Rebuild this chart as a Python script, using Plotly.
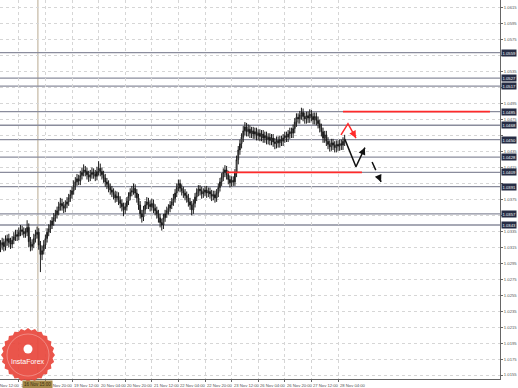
import math
import plotly.graph_objects as go

# ---------------- data (H1 bars) ----------------
bar_start = 5
closes = [
    1.0318, 1.0321, 1.0316, 1.0323, 1.0326, 1.0321, 1.0319, 1.0324, 1.0328, 1.0331,
    1.0329, 1.0334, 1.0337, 1.0335, 1.0332, 1.0334, 1.0340, 1.0322, 1.0316, 1.0319,
    1.0326, 1.0331, 1.0334, 1.0318, 1.0306, 1.0311, 1.0318, 1.0326, 1.0334, 1.0338,
    1.0343, 1.0348, 1.0352, 1.0356, 1.0361, 1.0366, 1.0370, 1.0367, 1.0364, 1.0369,
    1.0372, 1.0377, 1.0381, 1.0386, 1.0393, 1.0397, 1.0401, 1.0398, 1.0405, 1.0409,
    1.0412, 1.0410, 1.0406, 1.0403, 1.0406, 1.0409, 1.0407, 1.0404, 1.0410, 1.0414,
    1.0410, 1.0406, 1.0402, 1.0397, 1.0394, 1.0390, 1.0387, 1.0384, 1.0381, 1.0377,
    1.0379, 1.0374, 1.0370, 1.0366, 1.0362, 1.0366, 1.0373, 1.0379, 1.0384, 1.0386,
    1.0389, 1.0383, 1.0377, 1.0368, 1.0357, 1.0353, 1.0362, 1.0368, 1.0372, 1.0369,
    1.0366, 1.0370, 1.0364, 1.0361, 1.0357, 1.0352, 1.0346, 1.0343, 1.0352, 1.0357,
    1.0361, 1.0364, 1.0368, 1.0372, 1.0376, 1.0383, 1.0390, 1.0395, 1.0389, 1.0386,
    1.0383, 1.0380, 1.0377, 1.0372, 1.0368, 1.0362, 1.0370, 1.0378, 1.0384, 1.0388,
    1.0386, 1.0382, 1.0384, 1.0387, 1.0383, 1.0385, 1.0382, 1.0379, 1.0381, 1.0377,
    1.0383, 1.0390, 1.0397, 1.0403, 1.0409, 1.0412, 1.0406, 1.0400, 1.0396, 1.0399,
    1.0397, 1.0408, 1.0425, 1.0437, 1.0445, 1.0453, 1.0461, 1.0466, 1.0460, 1.0463,
    1.0458, 1.0461, 1.0457, 1.0460, 1.0455, 1.0458, 1.0454, 1.0457, 1.0452, 1.0455,
    1.0450, 1.0453, 1.0449, 1.0452, 1.0447, 1.0445, 1.0449, 1.0446, 1.0450, 1.0448,
    1.0452, 1.0455, 1.0453, 1.0457, 1.0460, 1.0458, 1.0464, 1.0472, 1.0478, 1.0476,
    1.0481, 1.0484, 1.0479, 1.0476, 1.0480, 1.0477, 1.0482, 1.0479, 1.0475, 1.0479,
    1.0474, 1.0470, 1.0465, 1.0460, 1.0452, 1.0456, 1.0448, 1.0444, 1.0441, 1.0446,
    1.0443, 1.0440, 1.0444, 1.0442, 1.0445, 1.0443, 1.0448, 1.0451,
]
opens = [
    1.0315, 1.0318, 1.0321, 1.0316, 1.0323, 1.0326, 1.0321, 1.0319, 1.0324, 1.0328,
    1.0331, 1.0329, 1.0334, 1.0337, 1.0335, 1.0332, 1.0334, 1.0340, 1.0322, 1.0316,
    1.0319, 1.0326, 1.0331, 1.0334, 1.0318, 1.0306, 1.0311, 1.0318, 1.0326, 1.0334,
    1.0338, 1.0343, 1.0348, 1.0352, 1.0356, 1.0361, 1.0366, 1.0370, 1.0367, 1.0364,
    1.0369, 1.0372, 1.0377, 1.0381, 1.0386, 1.0393, 1.0397, 1.0401, 1.0398, 1.0405,
    1.0409, 1.0412, 1.0410, 1.0406, 1.0403, 1.0406, 1.0409, 1.0407, 1.0404, 1.0410,
    1.0414, 1.0410, 1.0406, 1.0402, 1.0397, 1.0394, 1.0390, 1.0387, 1.0384, 1.0381,
    1.0377, 1.0379, 1.0374, 1.0370, 1.0366, 1.0362, 1.0366, 1.0373, 1.0379, 1.0384,
    1.0386, 1.0389, 1.0383, 1.0377, 1.0368, 1.0357, 1.0353, 1.0362, 1.0368, 1.0372,
    1.0369, 1.0366, 1.0370, 1.0364, 1.0361, 1.0357, 1.0352, 1.0346, 1.0343, 1.0352,
    1.0357, 1.0361, 1.0364, 1.0368, 1.0372, 1.0376, 1.0383, 1.0390, 1.0395, 1.0389,
    1.0386, 1.0383, 1.0380, 1.0377, 1.0372, 1.0368, 1.0362, 1.0370, 1.0378, 1.0384,
    1.0388, 1.0386, 1.0382, 1.0384, 1.0387, 1.0383, 1.0385, 1.0382, 1.0379, 1.0381,
    1.0377, 1.0383, 1.0390, 1.0397, 1.0403, 1.0409, 1.0412, 1.0406, 1.0400, 1.0396,
    1.0399, 1.0397, 1.0408, 1.0425, 1.0437, 1.0445, 1.0453, 1.0461, 1.0466, 1.0460,
    1.0463, 1.0458, 1.0461, 1.0457, 1.0460, 1.0455, 1.0458, 1.0454, 1.0457, 1.0452,
    1.0455, 1.0450, 1.0453, 1.0449, 1.0452, 1.0447, 1.0445, 1.0449, 1.0446, 1.0450,
    1.0448, 1.0452, 1.0455, 1.0453, 1.0457, 1.0460, 1.0458, 1.0464, 1.0472, 1.0478,
    1.0476, 1.0481, 1.0484, 1.0479, 1.0476, 1.0480, 1.0477, 1.0482, 1.0479, 1.0475,
    1.0479, 1.0474, 1.0470, 1.0465, 1.0460, 1.0452, 1.0456, 1.0448, 1.0444, 1.0441,
    1.0446, 1.0443, 1.0440, 1.0444, 1.0442, 1.0445, 1.0443, 1.0448,
]
highs = [
    1.0324, 1.0327, 1.0326, 1.0330, 1.0331, 1.0332, 1.0327, 1.0329, 1.0334, 1.0337,
    1.0337, 1.0340, 1.0343, 1.0342, 1.0340, 1.0339, 1.0349, 1.0345, 1.0328, 1.0325,
    1.0332, 1.0337, 1.0341, 1.0339, 1.0323, 1.0317, 1.0324, 1.0331, 1.0339, 1.0344,
    1.0349, 1.0353, 1.0358, 1.0362, 1.0366, 1.0372, 1.0377, 1.0376, 1.0372, 1.0374,
    1.0378, 1.0382, 1.0387, 1.0391, 1.0399, 1.0403, 1.0407, 1.0406, 1.0411, 1.0415,
    1.0419, 1.0417, 1.0415, 1.0411, 1.0412, 1.0415, 1.0414, 1.0412, 1.0416, 1.0423,
    1.0420, 1.0415, 1.0411, 1.0407, 1.0402, 1.0399, 1.0395, 1.0392, 1.0389, 1.0386,
    1.0385, 1.0384, 1.0379, 1.0375, 1.0371, 1.0371, 1.0378, 1.0384, 1.0389, 1.0392,
    1.0395, 1.0394, 1.0388, 1.0382, 1.0373, 1.0362, 1.0367, 1.0373, 1.0378, 1.0377,
    1.0374, 1.0376, 1.0375, 1.0369, 1.0366, 1.0362, 1.0357, 1.0351, 1.0357, 1.0362,
    1.0366, 1.0369, 1.0373, 1.0377, 1.0382, 1.0388, 1.0395, 1.0400, 1.0400, 1.0394,
    1.0391, 1.0388, 1.0385, 1.0382, 1.0377, 1.0373, 1.0375, 1.0383, 1.0389, 1.0393,
    1.0393, 1.0391, 1.0389, 1.0392, 1.0392, 1.0390, 1.0390, 1.0387, 1.0386, 1.0386,
    1.0388, 1.0395, 1.0402, 1.0408, 1.0414, 1.0418, 1.0417, 1.0411, 1.0405, 1.0404,
    1.0404, 1.0413, 1.0430, 1.0442, 1.0450, 1.0458, 1.0467, 1.0472, 1.0471, 1.0469,
    1.0468, 1.0466, 1.0466, 1.0465, 1.0465, 1.0463, 1.0463, 1.0462, 1.0462, 1.0460,
    1.0460, 1.0458, 1.0458, 1.0457, 1.0457, 1.0452, 1.0454, 1.0454, 1.0455, 1.0455,
    1.0457, 1.0460, 1.0460, 1.0462, 1.0465, 1.0465, 1.0469, 1.0477, 1.0483, 1.0483,
    1.0486, 1.0490, 1.0489, 1.0484, 1.0485, 1.0485, 1.0488, 1.0487, 1.0484, 1.0484,
    1.0484, 1.0479, 1.0475, 1.0470, 1.0465, 1.0461, 1.0461, 1.0453, 1.0449, 1.0451,
    1.0451, 1.0448, 1.0449, 1.0449, 1.0450, 1.0450, 1.0453, 1.0456,
]
lows = [
    1.0309, 1.0312, 1.0310, 1.0311, 1.0317, 1.0315, 1.0313, 1.0314, 1.0319, 1.0323,
    1.0323, 1.0324, 1.0329, 1.0330, 1.0327, 1.0327, 1.0329, 1.0315, 1.0310, 1.0311,
    1.0314, 1.0321, 1.0326, 1.0312, 1.0284, 1.0299, 1.0306, 1.0313, 1.0321, 1.0329,
    1.0333, 1.0338, 1.0342, 1.0347, 1.0351, 1.0355, 1.0361, 1.0361, 1.0358, 1.0359,
    1.0364, 1.0367, 1.0372, 1.0376, 1.0381, 1.0387, 1.0392, 1.0393, 1.0393, 1.0400,
    1.0404, 1.0404, 1.0400, 1.0397, 1.0398, 1.0401, 1.0401, 1.0398, 1.0399, 1.0405,
    1.0404, 1.0400, 1.0396, 1.0391, 1.0388, 1.0384, 1.0381, 1.0378, 1.0375, 1.0371,
    1.0372, 1.0368, 1.0364, 1.0360, 1.0354, 1.0357, 1.0361, 1.0368, 1.0374, 1.0379,
    1.0381, 1.0377, 1.0371, 1.0362, 1.0351, 1.0346, 1.0348, 1.0357, 1.0363, 1.0363,
    1.0360, 1.0361, 1.0358, 1.0355, 1.0351, 1.0346, 1.0340, 1.0336, 1.0338, 1.0347,
    1.0352, 1.0356, 1.0359, 1.0363, 1.0367, 1.0371, 1.0378, 1.0385, 1.0384, 1.0380,
    1.0377, 1.0374, 1.0371, 1.0366, 1.0362, 1.0355, 1.0357, 1.0365, 1.0373, 1.0379,
    1.0380, 1.0376, 1.0377, 1.0379, 1.0377, 1.0378, 1.0376, 1.0373, 1.0374, 1.0371,
    1.0372, 1.0378, 1.0385, 1.0392, 1.0398, 1.0403, 1.0400, 1.0394, 1.0390, 1.0391,
    1.0392, 1.0392, 1.0403, 1.0419, 1.0431, 1.0439, 1.0447, 1.0455, 1.0454, 1.0454,
    1.0452, 1.0452, 1.0451, 1.0451, 1.0449, 1.0449, 1.0448, 1.0448, 1.0446, 1.0446,
    1.0444, 1.0444, 1.0443, 1.0443, 1.0441, 1.0438, 1.0439, 1.0440, 1.0440, 1.0442,
    1.0442, 1.0446, 1.0447, 1.0447, 1.0451, 1.0452, 1.0452, 1.0458, 1.0466, 1.0470,
    1.0470, 1.0475, 1.0473, 1.0470, 1.0470, 1.0471, 1.0471, 1.0473, 1.0469, 1.0469,
    1.0468, 1.0464, 1.0459, 1.0454, 1.0446, 1.0446, 1.0442, 1.0438, 1.0435, 1.0436,
    1.0437, 1.0434, 1.0434, 1.0436, 1.0436, 1.0437, 1.0437, 1.0442,
]
bars = list(range(bar_start, bar_start + len(closes)))

# time axis labels (bar index of each label)
time_label_bars = [0, 16, 32, 48, 64, 80, 96, 112, 128, 144, 160, 176, 192, 208]
time_labels = ["15 Nov 12:00", "16 Nov 04:00", "16 Nov 20:00", "19 Nov 12:00",
               "20 Nov 04:00", "20 Nov 20:00", "21 Nov 12:00", "22 Nov 04:00",
               "22 Nov 20:00", "23 Nov 12:00", "26 Nov 04:00", "26 Nov 20:00",
               "27 Nov 12:00", "28 Nov 04:00"]

# price axis labels
price_ticks = [1.0615, 1.0595, 1.0575, 1.0555, 1.0535, 1.0515, 1.0495, 1.0475,
               1.0455, 1.0435, 1.0415, 1.0395, 1.0375, 1.0355, 1.0335, 1.0315,
               1.0295, 1.0275, 1.0255, 1.0235, 1.0215, 1.0195, 1.0175, 1.0155]
price_tick_text = ["1.0615", "1.0595", "1.0575", "1.0555", "1.0535", "1.0515",
                   "1.0495", "1.0475", "1.0455", "1.0435", "1.0415", "1.0395",
                   "1.0375", "1.0355", "1.0335", "1.0315", "1.0295", "1.0275",
                   "1.0255", "1.0235", "1.0215", "1.0195", "1.0175", "1.0155"]

# horizontal support / resistance levels
levels = [1.0559, 1.0527, 1.0517, 1.0485, 1.0468, 1.0450, 1.0428, 1.0409,
          1.0391, 1.0357, 1.0343]
level_labels = ["1.0559", "1.0527", "1.0517", "1.0485", "1.0468", "1.0450",
                "1.0428", "1.0409", "1.0391", "1.0357", "1.0343"]

# red level segments: (from bar, to bar, price)
red_from = [141, 211]
red_to = [222.4, 299.4]
red_price = [1.0409, 1.0485]

# vertical marker line
vline_bar = 27.5
vline_label = "16 Nov 15:00"

# forecast arrows (bar index, price)
red_arrow_bars = [209.8, 214.0, 218.8]
red_arrow_prices = [1.0456, 1.0470, 1.0452]
black_arrow_bars = [212.2, 218.8, 224.2]
black_arrow_prices = [1.0450, 1.0416, 1.0440]
dash_arrow_bars = [228.5, 233.9]
dash_arrow_prices = [1.0422, 1.0397]

# ---------------- layout constants ----------------
W, H = 518, 388
PLOT_W, PLOT_H = 500, 379
X_RANGE = [4.69, 305.44]
Y_RANGE = [1.0150, 1.0625]
FONT = "Liberation Sans, Arial, sans-serif"
LEVEL_COLOR = "#8a8c9c"
RED = "#ff2a2a"
AXIS_TXT = "#555555"
TXT_SIZE = 4.2


def xpaper(b):
    return (b - X_RANGE[0]) / (X_RANGE[1] - X_RANGE[0])


# tick labels that sit under a level box are covered in the original chart
shown_tick_text = [t if all(abs(p - lv) > 0.0006 for lv in levels) else ""
                   for p, t in zip(price_ticks, price_tick_text)]

fig = go.Figure()

fig.add_trace(go.Candlestick(
    x=bars, open=opens, high=highs, low=lows, close=closes,
    increasing=dict(line=dict(color="#1a1a1a", width=1), fillcolor="#ffffff"),
    decreasing=dict(line=dict(color="#1a1a1a", width=1), fillcolor="#1a1a1a"),
    whiskerwidth=0, showlegend=False, hoverinfo="skip",
))

shapes = []
shapes.append(dict(type="line", xref="x", yref="paper", x0=vline_bar, x1=vline_bar,
                   y0=0, y1=1, line=dict(color="#b9aa90", width=1), layer="below"))
for lv in levels:
    shapes.append(dict(type="line", xref="paper", yref="y", x0=0, x1=1, y0=lv, y1=lv,
                       line=dict(color=LEVEL_COLOR, width=1.3), layer="below"))
for a, b, p in zip(red_from, red_to, red_price):
    shapes.append(dict(type="line", xref="x", yref="y", x0=a, x1=b, y0=p, y1=p,
                       line=dict(color=RED, width=1.8), layer="above"))

# InstaForex seal (decoration, pixel geometry)
cx, cy, r_out, r_in, n = 28, 355, 27, 24.8, 24
pts = []
for k in range(2 * n):
    r = r_out if k % 2 == 0 else r_in
    a = math.pi * k / n
    pts.append((cx + r * math.cos(a), cy + r * math.sin(a)))
path = "M " + " L ".join(f"{px / PLOT_W:.4f},{1 - py / PLOT_H:.4f}" for px, py in pts) + " Z"
shapes.append(dict(type="path", xref="paper", yref="paper", path=path,
                   fillcolor="#e8473c", line=dict(width=0), opacity=0.92, layer="above"))
shapes.append(dict(type="circle", xref="paper", yref="paper",
                   x0=(cx - 21) / PLOT_W, x1=(cx + 21) / PLOT_W,
                   y0=1 - (cy + 21) / PLOT_H, y1=1 - (cy - 21) / PLOT_H,
                   line=dict(color="rgba(255,255,255,0.5)", width=0.6), layer="above"))
shapes.append(dict(type="circle", xref="paper", yref="paper",
                   x0=(cx - 4.5) / PLOT_W, x1=(cx + 4.5) / PLOT_W,
                   y0=1 - (cy - 6 + 4.5) / PLOT_H, y1=1 - (cy - 6 - 4.5) / PLOT_H,
                   fillcolor="#ffffff", line=dict(width=0), layer="above"))
fig.update_layout(shapes=shapes)

for bx, py, col, dash in [(red_arrow_bars, red_arrow_prices, RED, "solid"),
                          (black_arrow_bars, black_arrow_prices, "#111111", "solid"),
                          (dash_arrow_bars, dash_arrow_prices, "#111111", "dash")]:
    fig.add_trace(go.Scatter(x=bx, y=py, mode="lines", showlegend=False, hoverinfo="skip",
                             line=dict(color=col, width=1.5, dash=dash)))

annotations = []
for bx, py, col in [(red_arrow_bars, red_arrow_prices, RED),
                    (black_arrow_bars, black_arrow_prices, "#111111"),
                    (dash_arrow_bars, dash_arrow_prices, "#111111")]:
    tx = bx[-1] + 0.35 * (bx[-2] - bx[-1])
    ty = py[-1] + 0.35 * (py[-2] - py[-1])
    annotations.append(dict(x=bx[-1], y=py[-1], ax=tx, ay=ty, xref="x", yref="y",
                            axref="x", ayref="y", showarrow=True, arrowhead=2,
                            arrowsize=1.1, arrowwidth=1.3, arrowcolor=col, text="",
                            standoff=0))

for lv, txt in zip(levels, level_labels):
    annotations.append(dict(x=1, y=lv, xref="paper", yref="y", xanchor="left",
                            yanchor="middle", xshift=1, text=txt, showarrow=False,
                            bgcolor="#262c44", borderpad=0.5,
                            font=dict(family=FONT, size=TXT_SIZE, color="#ffffff")))

for b, t in zip(time_label_bars, time_labels):
    annotations.append(dict(x=xpaper(b), y=0, xref="paper", yref="paper",
                            xanchor="left", yanchor="top", yshift=-2, text=t,
                            showarrow=False,
                            font=dict(family=FONT, size=TXT_SIZE, color=AXIS_TXT)))

annotations.append(dict(x=xpaper(vline_bar), y=0, xref="paper", yref="paper",
                        xanchor="center", yanchor="top", yshift=-1, text=vline_label,
                        showarrow=False, bgcolor="#a58a4a", borderpad=1,
                        font=dict(family=FONT, size=TXT_SIZE + 0.3, color="#3a2c10")))

annotations.append(dict(x=cx / PLOT_W, y=1 - (cy + 6) / PLOT_H, xref="paper", yref="paper",
                        text="InstaForex", showarrow=False, xanchor="center",
                        yanchor="middle",
                        font=dict(family=FONT, size=7, color="#ffffff")))

fig.update_layout(
    width=W, height=H,
    margin=dict(l=0, r=W - PLOT_W, t=0, b=H - PLOT_H),
    paper_bgcolor="#ffffff", plot_bgcolor="#ffffff",
    annotations=annotations,
    showlegend=False,
    xaxis=dict(range=X_RANGE, rangeslider=dict(visible=False), tickvals=time_label_bars,
               showticklabels=False, ticks="outside", ticklen=2, tickcolor="#666666",
               showgrid=True, gridcolor="#d6d6d6", griddash="dot", gridwidth=1,
               showline=True, linecolor="#666666", linewidth=1, zeroline=False),
    yaxis=dict(range=Y_RANGE, side="right", tickvals=price_ticks, ticktext=shown_tick_text,
               ticks="outside", ticklen=2, tickcolor="#666666",
               tickfont=dict(family=FONT, size=TXT_SIZE, color=AXIS_TXT),
               showgrid=True, gridcolor="#d6d6d6", griddash="dot", gridwidth=1,
               showline=True, linecolor="#666666", linewidth=1, zeroline=False),
)

fig.write_html("out.html", config={"displayModeBar": False},
               post_script="document.body.style.margin='0';document.body.style.overflow='hidden';")
